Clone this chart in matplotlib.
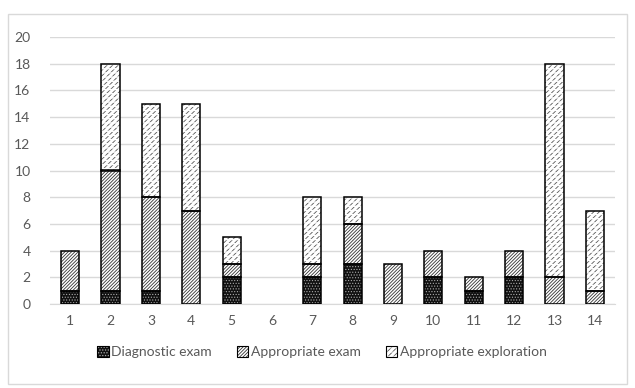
import matplotlib
matplotlib.use("Agg")
import matplotlib.pyplot as plt
from matplotlib.patches import Rectangle, Patch
import numpy as np

plt.rcParams.update({
    "font.family": ["Lato", "DejaVu Sans"],
    "font.size": 9,
    "hatch.linewidth": 0.6,
})

GRAY_TXT = "#595959"
GRID = "#d9d9d9"

categories = [str(i) for i in range(1, 15)]
diagnostic = [1, 1, 1, 0, 2, 0, 2, 3, 0, 2, 1, 2, 0, 0]
approp_exam = [3, 9, 7, 7, 1, 0, 1, 3, 3, 2, 1, 2, 2, 1]
approp_expl = [0, 8, 7, 8, 2, 0, 5, 2, 0, 0, 0, 0, 16, 6]

fig = plt.figure(figsize=(6.35, 3.88), dpi=100)
fig.patches.append(Rectangle((8 / 635, 1 - 384 / 388), 619 / 635, 370 / 388,
                             transform=fig.transFigure, fill=False,
                             edgecolor=GRID, linewidth=1))
ax = fig.add_axes([50 / 635, 1 - 304 / 388, 565 / 635, 267 / 388])

x = np.arange(len(categories))
w = 0.45
diag = np.array(diagnostic)
exam = np.array(approp_exam)
expl = np.array(approp_expl)

DIAG_H = ("#111111", "......", "#aaaaaa", 0.5)
EXAM_H = ("white", "/" * 10, "#333333", 0.6)
EXPL_H = ("white", "/" * 6, "#555555", 0.6)
EXPL_EXTRA = ("-" * 4, 1.0)


def hatched(vals, bottom, style, extra=None):
    face, hatch, hcolor, lw = style
    bottom = np.broadcast_to(bottom, vals.shape)
    m = vals > 0
    xs, v, b = x[m], vals[m], bottom[m]
    # hatch layer first, then a plain outline on top
    with plt.rc_context({"hatch.linewidth": lw}):
        ax.bar(xs, v, w, bottom=b, color=face, hatch=hatch,
               edgecolor=hcolor, linewidth=0, zorder=3)
    if extra is not None:
        with plt.rc_context({"hatch.linewidth": extra[1]}):
            ax.bar(xs, v, w, bottom=b, fill=False, hatch=extra[0],
                   edgecolor="white", linewidth=0, zorder=4)
    ax.bar(xs, v, w, bottom=b, fill=False, edgecolor="black",
           linewidth=1.1, zorder=5)


hatched(diag, 0, DIAG_H)
hatched(exam, diag, EXAM_H)
hatched(expl, diag + exam, EXPL_H, extra=EXPL_EXTRA)

ax.set_ylim(0, 20)
ax.set_xlim(-0.5, len(categories) - 0.5)
ax.set_yticks(range(0, 21, 2))
ax.set_xticks(x)
ax.set_xticklabels(categories)
ax.yaxis.grid(True, color=GRID, linewidth=1)
ax.set_axisbelow(True)
for s in ["top", "right", "left"]:
    ax.spines[s].set_visible(False)
ax.spines["bottom"].set_color(GRID)
ax.tick_params(length=0, colors=GRAY_TXT, labelsize=10)
ax.tick_params(axis="y", pad=14)
ax.tick_params(axis="x", pad=8)


def legend_patch(style, extra=None):
    face, hatch, hcolor, lw = style
    with plt.rc_context({"hatch.linewidth": lw}):
        p = Patch(facecolor=face, edgecolor=hcolor, hatch=hatch, linewidth=0)
    parts = [p]
    if extra is not None:
        with plt.rc_context({"hatch.linewidth": extra[1]}):
            parts.append(Patch(fill=False, edgecolor="white", hatch=extra[0], linewidth=0))
    parts.append(Patch(fill=False, edgecolor="black", linewidth=0.8))
    return tuple(parts)


handles = [legend_patch(DIAG_H), legend_patch(EXAM_H), legend_patch(EXPL_H, EXPL_EXTRA)]
labels = ["Diagnostic exam", "Appropriate exam", "Appropriate exploration"]
leg = fig.legend(handles, labels, loc="center", bbox_to_anchor=(322 / 635, 1 - 352 / 388),
                 ncol=3, frameon=False, handlelength=0.8, handleheight=0.8,
                 handletextpad=0.2, columnspacing=1.8, fontsize=10)
for t in leg.get_texts():
    t.set_color(GRAY_TXT)

fig.savefig("out.png", dpi=100)
